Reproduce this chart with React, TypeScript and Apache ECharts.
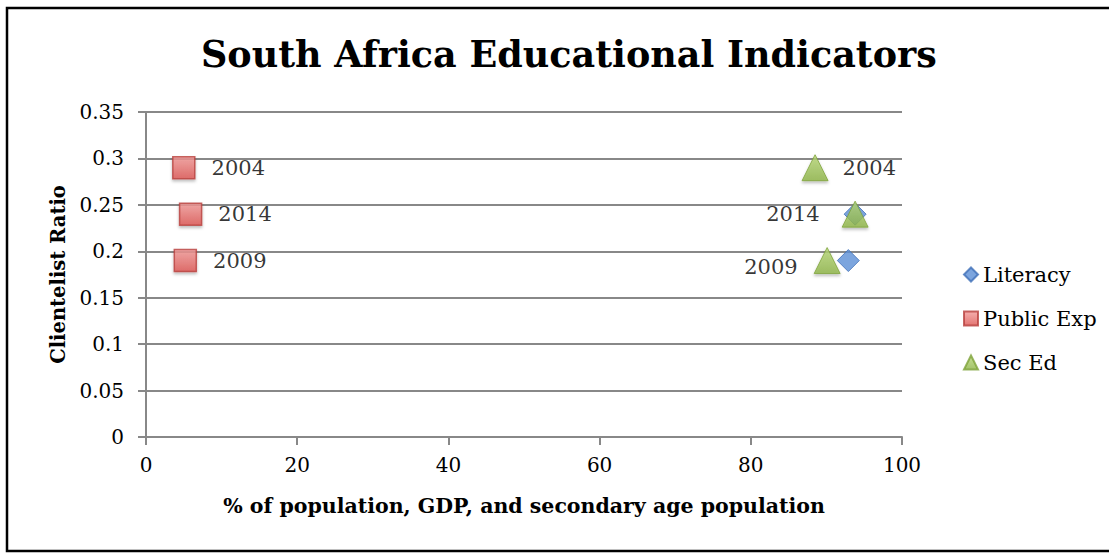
import React, { useEffect, useRef } from "react";
import * as echarts from "echarts";

const years = ["2004", "2014", "2009"];
const literacyX = [93.8, 92.9];
const literacyY = [0.24, 0.19];
const literacyYears = ["2014", "2009"];
const publicExpX = [5.0, 5.9, 5.2];
const publicExpY = [0.29, 0.24, 0.19];
const secEdX = [88.5, 93.8, 90.1];
const secEdY = [0.29, 0.24, 0.19];
const yTicks = [0, 0.05, 0.1, 0.15, 0.2, 0.25, 0.3, 0.35];
const xTicks = [0, 20, 40, 60, 80, 100];

const FONT = "DejaVu Serif";

export default function App() {
  const ref = useRef<HTMLDivElement>(null);
  useEffect(() => {
    document.body.style.margin = "0";
    const chart = echarts.init(ref.current!, null, { renderer: "svg" });
    const pubLabelPos: any[] = [
      { position: "right", distance: 16 },
      { position: "right", distance: 16 },
      { position: "right", distance: 16 },
    ];
    const secLabelPos: any[] = [
      { position: "right", distance: 14 },
      { position: "left", distance: 22 },
      { position: "left", distance: 16, offset: [0, 6] },
    ];
    const labelBase = { show: true, fontFamily: FONT, fontSize: 21, color: "#000" };
    chart.setOption({
      animation: false,
      backgroundColor: "#fff",
      textStyle: { fontFamily: FONT },
      title: {
        text: "South Africa Educational Indicators",
        left: 196,
        top: 31,
        textStyle: { fontFamily: FONT, fontWeight: "bold", fontSize: 36.5, color: "#000" },
      },
      graphic: [
        {
          type: "rect",
          shape: { x: 7, y: 8, width: 1110, height: 543 },
          style: { fill: "none", stroke: "#000", lineWidth: 2.5 },
          silent: true,
        },
      ],
      legend: {
        orient: "vertical",
        left: 958,
        top: 259,
        itemGap: 23,
        itemWidth: 14,
        itemHeight: 14,
        textStyle: { fontFamily: FONT, fontSize: 21, color: "#000" },
        data: [
          { name: "Literacy", icon: "diamond" },
          { name: "Public Exp", icon: "rect" },
          { name: "Sec Ed", icon: "triangle" },
        ],
      },
      grid: { left: 146, right: 207, top: 112, bottom: 116, containLabel: false },
      xAxis: {
        type: "value",
        min: 0,
        max: 100,
        interval: 20,
        name: "% of population, GDP, and secondary age population",
        nameLocation: "middle",
        nameGap: 58,
        nameTextStyle: { fontFamily: FONT, fontWeight: "bold", fontSize: 20.5, color: "#000" },
        axisLine: { show: true, lineStyle: { color: "#888", width: 2 } },
        axisTick: { show: true, length: 8, lineStyle: { color: "#888", width: 2 } },
        axisLabel: {
          fontFamily: FONT,
          fontSize: 20,
          color: "#000",
          margin: 18,
          formatter: (v: number) => (xTicks.includes(v) ? String(v) : ""),
        },
        splitLine: { show: false },
      },
      yAxis: {
        type: "value",
        min: 0,
        max: 0.35,
        interval: 0.05,
        name: "Clientelist Ratio",
        nameLocation: "middle",
        nameGap: 78,
        nameTextStyle: { fontFamily: FONT, fontWeight: "bold", fontSize: 19.5, color: "#000" },
        axisLine: { show: true, lineStyle: { color: "#888", width: 2 } },
        axisTick: { show: true, length: 8, lineStyle: { color: "#888", width: 2 } },
        axisLabel: {
          fontFamily: FONT,
          fontSize: 20,
          color: "#000",
          margin: 22,
          formatter: (v: number) => {
            const t = yTicks.find((y) => Math.abs(y - v) < 1e-9);
            return t === undefined ? "" : String(parseFloat(t.toFixed(2)));
          },
        },
        splitLine: { show: true, lineStyle: { color: "#888", width: 2 } },
      },
      series: [
        {
          name: "Literacy",
          type: "scatter",
          symbol: "diamond",
          symbolSize: 22,
          itemStyle: { color: "#5B8ED6", borderColor: "#3F6FB8", borderWidth: 1 },
          data: literacyX.map((x, i) => ({ value: [x, literacyY[i]], name: literacyYears[i] })),
        },
        {
          name: "Public Exp",
          type: "scatter",
          symbol: "rect",
          symbolSize: 22,
          itemStyle: {
            color: new echarts.graphic.LinearGradient(0, 0, 0, 1, [
              { offset: 0, color: "#F29A98" },
              { offset: 1, color: "#DC5350" },
            ]),
            borderColor: "#B8403D",
            borderWidth: 1.5,
            shadowColor: "rgba(0,0,0,0.3)",
            shadowBlur: 3,
            shadowOffsetY: 2,
          },
          data: publicExpX.map((x, i) => ({
            value: [x, publicExpY[i]],
            label: { ...labelBase, ...pubLabelPos[i], formatter: years[i] },
          })),
        },
        {
          name: "Sec Ed",
          type: "scatter",
          symbol: "triangle",
          symbolSize: 26,
          itemStyle: {
            color: new echarts.graphic.LinearGradient(0, 0, 0, 1, [
              { offset: 0, color: "#B8D878" },
              { offset: 1, color: "#8DB446" },
            ]),
            borderColor: "#7EA23A",
            borderWidth: 1,
            shadowColor: "rgba(0,0,0,0.3)",
            shadowBlur: 3,
            shadowOffsetY: 2,
          },
          data: secEdX.map((x, i) => ({
            value: [x, secEdY[i]],
            label: { ...labelBase, ...secLabelPos[i], formatter: years[i] },
          })),
        },
      ],
    });
    return () => chart.dispose();
  }, []);
  return <div ref={ref} style={{ width: 1109, height: 553 }} />;
}
